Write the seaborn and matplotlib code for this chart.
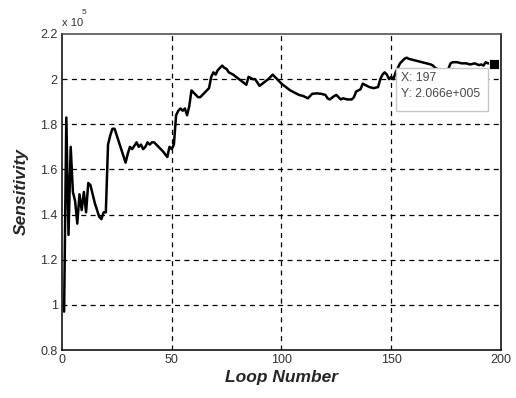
import matplotlib
matplotlib.use("Agg")
import matplotlib.pyplot as plt
import seaborn as sns
import pandas as pd
from matplotlib.patches import Rectangle
from matplotlib.ticker import FixedLocator

# Sensitivity per loop iteration, in units of 1e5 (rows of ten)
loops = [
    1, 2, 3, 4, 5, 6, 7, 8, 9, 10,
    11, 12, 13, 14, 15, 16, 17, 18, 19, 20,
    21, 22, 23, 24, 26, 28, 29, 30, 31, 32,
    34, 35, 36, 37, 38, 39, 40, 41, 42, 44,
    46, 48, 49, 50, 51, 52, 53, 54, 55, 56,
    57, 58, 59, 60, 61, 62, 63, 64, 66, 67,
    68, 69, 70, 71, 72, 73, 74, 75, 76, 78,
    80, 82, 84, 85, 86, 87, 88, 90, 92, 94,
    96, 98, 100, 102, 104, 106, 108, 110, 112, 113,
    114, 116, 118, 120, 121, 122, 124, 125, 126, 127,
    128, 130, 132, 133, 134, 136, 137, 138, 140, 142,
    144, 145, 146, 147, 148, 149, 150, 151, 152, 153,
    154, 155, 156, 157, 158, 160, 162, 164, 166, 168,
    169, 170, 172, 174, 176, 177, 178, 180, 182, 184,
    186, 188, 190, 191, 192, 193, 194, 195, 196, 197,
]
sensitivity_e5 = [
    0.97, 1.83, 1.31, 1.70, 1.50, 1.46, 1.36, 1.49, 1.42, 1.50,
    1.41, 1.54, 1.53, 1.49, 1.45, 1.42, 1.39, 1.38, 1.41, 1.41,
    1.71, 1.75, 1.78, 1.78, 1.72, 1.66, 1.63, 1.67, 1.70, 1.69,
    1.72, 1.70, 1.71, 1.69, 1.70, 1.72, 1.71, 1.72, 1.72, 1.70,
    1.68, 1.655, 1.70, 1.69, 1.71, 1.84, 1.86, 1.87, 1.86, 1.87,
    1.84, 1.88, 1.95, 1.94, 1.93, 1.92, 1.92, 1.93, 1.95, 1.96,
    2.01, 2.03, 2.02, 2.04, 2.05, 2.06, 2.05, 2.045, 2.03, 2.02,
    2.005, 1.99, 1.975, 2.01, 2.005, 2.00, 2.00, 1.97, 1.985, 2.00,
    2.02, 2.00, 1.98, 1.965, 1.95, 1.94, 1.93, 1.925, 1.915, 1.925,
    1.935, 1.937, 1.935, 1.93, 1.915, 1.91, 1.925, 1.93, 1.92, 1.91,
    1.915, 1.91, 1.91, 1.92, 1.945, 1.955, 1.98, 1.975, 1.965, 1.96,
    1.965, 2.00, 2.02, 2.03, 2.02, 2.00, 2.01, 2.00, 2.03, 2.05,
    2.07, 2.08, 2.09, 2.095, 2.09, 2.085, 2.08, 2.075, 2.07, 2.065,
    2.06, 2.05, 2.04, 2.04, 2.045, 2.07, 2.075, 2.075, 2.07, 2.07,
    2.065, 2.07, 2.062, 2.065, 2.06, 2.075, 2.07, 2.07, 2.068, 2.066,
]

x_ticks = [0, 50, 100, 150, 200]
y_ticks = [0.8, 1.0, 1.2, 1.4, 1.6, 1.8, 2.0, 2.2]
y_tick_labels = ["0.8", "1", "1.2", "1.4", "1.6", "1.8", "2", "2.2"]

tip_loop = 197
tip_value_e5 = 2.066

df = pd.DataFrame({"Loop Number": loops, "Sensitivity": sensitivity_e5})

sns.set_theme(style="white")
plt.rcParams["font.family"] = ["Liberation Sans", "DejaVu Sans"]

fig = plt.figure(figsize=(5.16, 3.98), dpi=100)
ax = fig.add_axes([0.120, 0.1206, 0.851, 0.794])

sns.lineplot(data=df, x="Loop Number", y="Sensitivity", ax=ax,
             color="black", linewidth=1.8, zorder=3)

ax.set_xlim(0, 200)
ax.set_ylim(0.8, 2.2)
ax.xaxis.set_major_locator(FixedLocator(x_ticks))
ax.yaxis.set_major_locator(FixedLocator(y_ticks))
ax.set_yticklabels(y_tick_labels)

# dashed grid on interior ticks only, so the frame stays solid
ax.grid(True, color="black", linestyle=(0, (4, 3.5)), linewidth=0.9)
for axis, ticks in ((ax.xaxis, x_ticks), (ax.yaxis, y_ticks)):
    for gl, t in zip(axis.get_gridlines(), ticks):
        if t in (ticks[0], ticks[-1]):
            gl.set_visible(False)

for name, s in ax.spines.items():
    s.set_color("black")
    s.set_linewidth(1.1)
ax.spines["top"].set_color("#444444")
ax.tick_params(direction="in", length=3, width=0.8, colors="black",
               labelcolor="#333333", labelsize=9, pad=3)

ax.set_xlabel("Loop Number", fontsize=12.5, fontweight="bold", style="italic",
              labelpad=3)
ax.set_ylabel("Sensitivity", fontsize=12.5, fontweight="bold", style="italic",
              labelpad=8)

# exponent annotation above the y axis
fig.text(62 / 516, 1 - 22.5 / 398, "x 10", fontsize=8, color="#333333",
         ha="left", va="center")
fig.text(82 / 516, 1 - 12.5 / 398, "5", fontsize=6, color="#333333",
         ha="left", va="center")

# data tip
ax.plot([tip_loop], [tip_value_e5], marker="s", markersize=7,
        color="black", markeredgecolor="white", markeredgewidth=0.6,
        zorder=6, clip_on=False)
box = Rectangle((152.2, 1.858), 41.8, 0.191, facecolor="white",
                edgecolor="#c8c8c8", linewidth=1.0, zorder=5)
ax.add_patch(box)
ax.text(154.3, 2.006, f"X: {tip_loop}", fontsize=8.8, color="#4a4a4a",
        ha="left", va="center", zorder=7)
ax.text(154.3, 1.936, f"Y: {tip_value_e5 * 1e5:.3e}".replace("e+05", "e+005"),
        fontsize=8.8, color="#4a4a4a", ha="left", va="center", zorder=7)

fig.savefig("out.png", dpi=100)
